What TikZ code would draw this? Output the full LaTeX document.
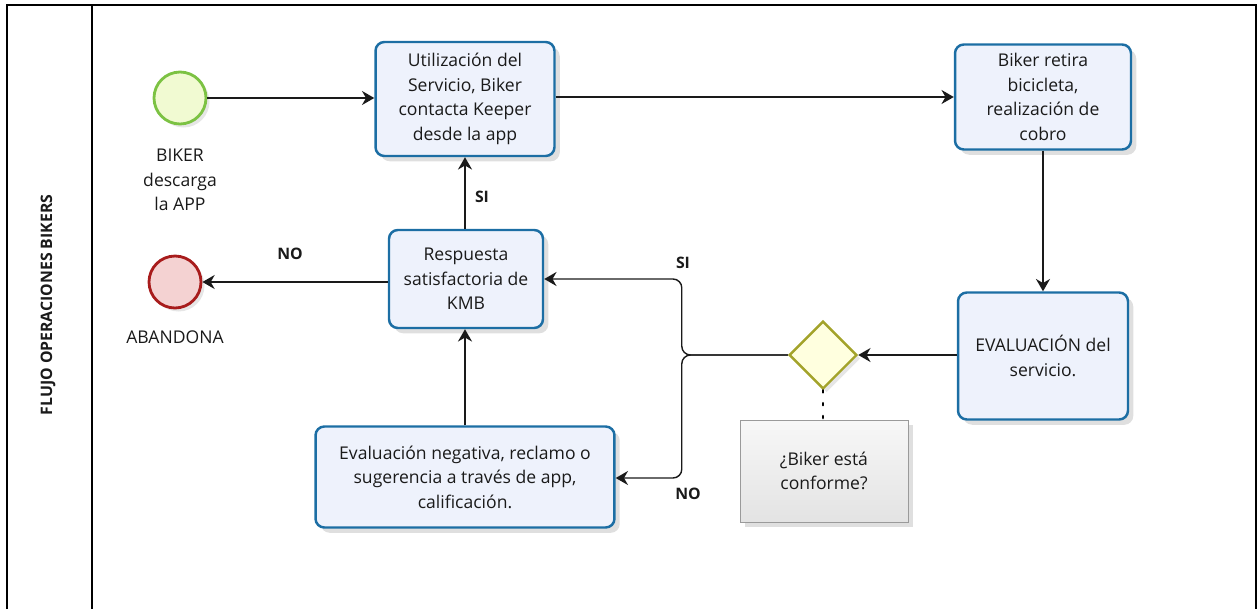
\documentclass[tikz,border=0pt]{standalone}
\usepackage{fontspec}
\setmainfont{Open Sans}
\usetikzlibrary{arrows.meta, positioning, shapes.geometric, shadows}
\definecolor{taskblue}{HTML}{1C6EA4}
\definecolor{taskfill}{HTML}{EEF2FC}
\definecolor{startgreen}{HTML}{7CC243}
\definecolor{startfill}{HTML}{F1FAD2}
\definecolor{endred}{HTML}{A81C1C}
\definecolor{endfill}{HTML}{F4D2D2}
\definecolor{gateolive}{HTML}{A3A32A}
\definecolor{gatefill}{HTML}{FFFFDF}
\definecolor{notegray}{HTML}{9A9A9A}
\definecolor{ink}{HTML}{1A1A1A}

\begin{document}
\begin{tikzpicture}[
    x=0.02cm, y=-0.02cm,
    >={Stealth[length=7pt, width=8pt]},
    task/.style={
        draw=taskblue, fill=taskfill, line width=1.4pt, rounded corners=5pt,
        font=\fontsize{10}{14}\selectfont, align=center, text=ink,
        drop shadow={opacity=0.25, shadow xshift=3pt, shadow yshift=-3pt}
    },
    event/.style={
        circle, draw=#1, line width=1.6pt, minimum size=1.04cm, inner sep=0pt,
        drop shadow={opacity=0.2, shadow xshift=2pt, shadow yshift=-2pt}
    },
    gateway/.style={
        diamond, draw=gateolive, fill=gatefill, line width=1.4pt,
        minimum width=1.36cm, minimum height=1.36cm, inner sep=0pt,
        drop shadow={opacity=0.2, shadow xshift=2pt, shadow yshift=-2pt}
    },
    note/.style={
        draw=notegray, top color=gray!6, bottom color=gray!22,
        minimum width=3.36cm, minimum height=2.04cm,
        font=\fontsize{10}{14}\selectfont, align=center, text=ink,
        drop shadow={opacity=0.25, shadow xshift=3pt, shadow yshift=-3pt}
    },
    caption/.style={font=\fontsize{10}{14}\selectfont, align=center, text=ink},
    arrow/.style={->, thick, color=ink},
    flag/.style={font=\bfseries\fontsize{9}{11}\selectfont, text=ink}
]
\useasboundingbox (0,0) rectangle (1258,609);

% === Pool and lane ===
\draw[thick] (7,609) -- (7,5) -- (1256,5) -- (1256,609);
\draw[thick] (92,5) -- (92,609);
\node[flag, rotate=90] (lane) at (48,305) {FLUJO OPERACIONES BIKERS};

% === Events ===
\node[event=startgreen, fill=startfill] (start) at (180,98) {};
\node[caption, below=0.35cm of start] (startlbl) {BIKER\\descarga\\la APP};

\node[event=endred, fill=endfill] (quit) at (175,282) {};
\node[caption, below=0.3cm of quit] (quitlbl) {ABANDONA};

% === Tasks ===
\node[task, minimum width=3.58cm, minimum height=2.28cm] (usage) at (465,99)
    {Utilización del\\Servicio, Biker\\contacta Keeper\\desde la app};
\node[task, minimum width=3.52cm, minimum height=2.1cm] (pickup) at (1043,97)
    {Biker retira\\bicicleta,\\realización de\\cobro};
\node[task, minimum width=3.4cm, minimum height=2.54cm] (review) at (1043,356)
    {EVALUACIÓN del\\servicio.};
\node[task, minimum width=3.08cm, minimum height=1.96cm] (reply) at (466,279)
    {Respuesta\\satisfactoria de\\KMB};
\node[task, minimum width=5.98cm, minimum height=2.02cm] (claim) at (465,477)
    {Evaluación negativa, reclamo o\\sugerencia a través de app,\\calificación.};

% === Gateway and its note ===
\node[gateway] (gate) at (823,355) {};
\node[note] (ask) at (824,471) {¿Biker está\\conforme?};

% === Arrows ===
\draw[arrow] (start) -- (usage.west |- start);
\draw[arrow] (usage.east |- pickup) -- (pickup);
\draw[arrow] (pickup) -- (review);
\draw[arrow] (review.west |- gate) -- (gate);

% Gateway -> Respuesta (SI) / -> Evaluación negativa (NO)
\draw[arrow, rounded corners=5pt] (gate.west) -- ++(-106,0) |- (reply.east);
\draw[arrow, rounded corners=5pt] (gate.west) -- ++(-106,0) |- (claim.east |- 0,478);
\node[flag] (gatesi) at (683,263) {SI};
\node[flag] (gateno) at (688,494) {NO};

% Respuesta -> Utilización (SI) / -> Abandona (NO)
\draw[arrow] (reply.north -| usage) -- (usage.south);
\node[flag] (replysi) at (482,197) {SI};
\draw[arrow] (reply.west |- quit) -- (quit);
\node[flag] (replyno) at (290,254) {NO};

% Evaluación negativa -> Respuesta
\draw[arrow] (claim.north) -- (reply.south -| claim);

% Note association
\draw[line width=1.3pt, dash pattern=on 1.3pt off 6pt, line cap=round] (gate.south) -- (ask.north -| gate);

\end{tikzpicture}
\end{document}
